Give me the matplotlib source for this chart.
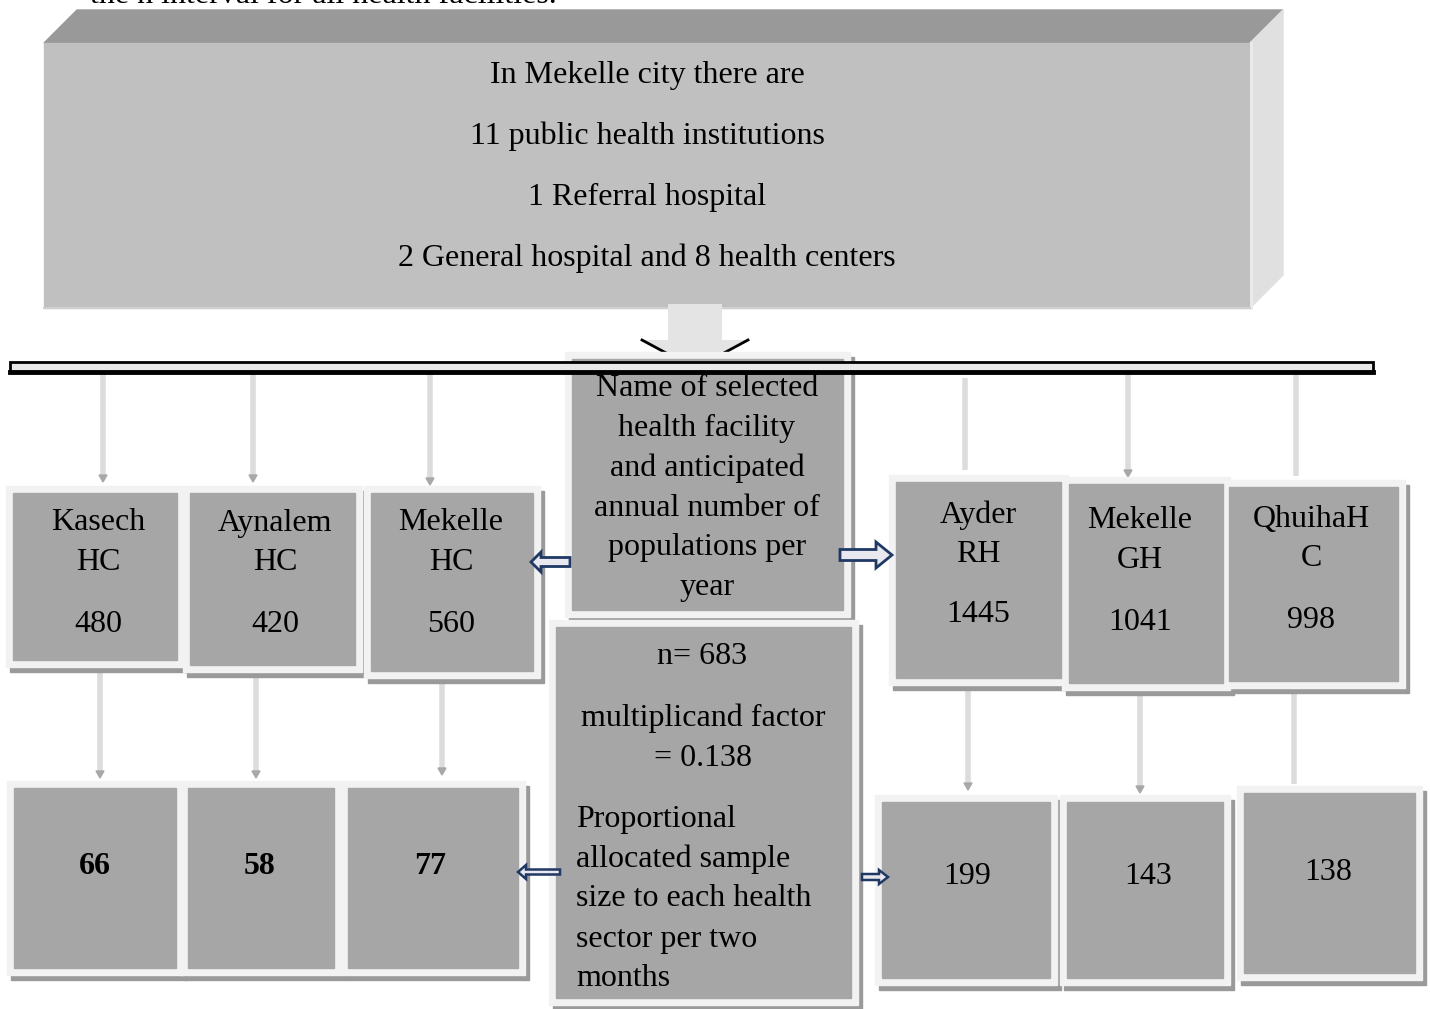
import matplotlib.pyplot as plt
from matplotlib.patches import Rectangle, Polygon

plt.rcParams["font.family"] = ["Liberation Serif", "DejaVu Serif"]

# --- content -------------------------------------------------------------
TOP_LINES = [
    "In Mekelle city there are",
    "11 public health institutions",
    "1 Referral hospital",
    "2 General hospital and 8 health centers",
]
CENTER_LINES = [
    "Name of selected",
    "health facility",
    "and anticipated",
    "annual number of",
    "populations per",
    "year",
]
FACILITY_NAMES = ["Kasech\nHC", "Aynalem\nHC", "Mekelle\nHC",
                  "Ayder\nRH", "Mekelle\nGH", "QhuihaH\nC"]
ANNUAL_POP = [480, 420, 560, 1445, 1041, 998]
SAMPLE_SIZE = [66, 58, 77, 199, 143, 138]
N_TOTAL = 683
FACTOR = 0.138

# --- layout (pixel space, y down) -----------------------------------------
# (frame x0, x1, y0, y1) for first-row and second-row boxes
ROW1 = [(6, 184, 486, 667), (183, 362, 486, 672), (364, 540, 486, 678),
        (889, 1068, 475, 685), (1062, 1230, 477, 690), (1222, 1405, 480, 688)]
ROW1_TEXT_X = [98, 275, 451, 978, 1140, 1311]
ROW1_TEXT_Y = [(523, 563, 624), (523, 563, 624), (523, 563, 624),
               (515, 555, 615), (521, 561, 622), (519, 559, 620)]
ROW2 = [(7, 183, 781, 975), (181, 341, 781, 975), (341, 525, 781, 975),
        (875, 1057, 795, 985), (1060, 1230, 795, 985), (1237, 1422, 786, 980)]
ROW2_TEXT_X = [95, 260, 430, 967, 1148, 1328]
ROW2_TEXT_Y = [866, 866, 866, 877, 877, 872]
CONN1 = [(103, 374, 482), (253, 374, 482), (430, 374, 485),
         (965, 378, 470), (1128, 362, 477), (1296, 374, 476)]
CONN2 = [(100, 670, 778), (256, 672, 778), (442, 678, 775),
         (968, 678, 790), (1140, 682, 793), (1294, 682, 784)]

FS = 23
FRAME = "#f2f2f2"
INNER = "#a6a6a6"
SHADOW = "#9a9a9a"
NAVY = "#1f3864"

fig = plt.figure(figsize=(14.30, 10.09), dpi=100)
ax = fig.add_axes([0, 0, 1, 1])
ax.set_xlim(0, 1430)
ax.set_ylim(1009, 0)
ax.axis("off")


def box(x0, x1, y0, y1, z=3, pad=7):
    ax.add_patch(Rectangle((x0 + 4, y0 + 5), x1 - x0, y1 - y0,
                           color=SHADOW, zorder=z))
    ax.add_patch(Rectangle((x0, y0), x1 - x0, y1 - y0, color=FRAME, zorder=z + 0.1))
    ax.add_patch(Rectangle((x0 + pad, y0 + pad), x1 - x0 - 2 * pad,
                           y1 - y0 - 2 * pad, color=INNER, zorder=z + 0.2))


def connector(x, y0, y1, tip=True):
    ax.plot([x, x], [y0, y1 - (6 if tip else 0)], color="#dcdcdc", lw=4,
            solid_capstyle="butt", zorder=2)
    if tip:
        ax.add_patch(Polygon([[x - 4, y1 - 7], [x + 4, y1 - 7], [x, y1]],
                             color="#a8a8a8", zorder=2))


def block_arrow(x_tail, x_tip, y, body, head, head_len, lw=2):
    d = 1 if x_tip > x_tail else -1
    xb = x_tip - d * head_len
    pts = [[x_tail, y - body / 2], [xb, y - body / 2], [xb, y - head / 2],
           [x_tip, y], [xb, y + head / 2], [xb, y + body / 2], [x_tail, y + body / 2]]
    ax.add_patch(Polygon(pts, closed=True, facecolor="#e8e8ee", edgecolor=NAVY,
                         lw=lw, joinstyle="miter", zorder=8))


# cut-off caption line from the page above (cropped in the source too)
ax.text(90, 3, "the n interval for all health facilities.", fontsize=FS,
        ha="left", va="baseline", zorder=1)

# top 3-D box
ax.add_patch(Polygon([[44, 43], [77, 10], [1283, 10], [1250, 43]],
                     color="#999999", zorder=1))
ax.add_patch(Polygon([[1250, 43], [1283, 10], [1283, 275], [1250, 308]],
                     color="#e0e0e0", zorder=1))
ax.add_patch(Rectangle((44, 43), 1206, 265, color="#c0c0c0", zorder=1))
ax.plot([1251, 1251], [43, 308], color="#ececec", lw=2, zorder=1.1)
ax.plot([44, 1250], [308, 308], color="#d0d0d0", lw=1.5, zorder=1.1)
for i, line in enumerate(TOP_LINES):
    ax.text(647, 75 + 61 * i, line, fontsize=FS, ha="center", va="center", zorder=2)

# big down arrow
ax.add_patch(Polygon([[668, 304], [722, 304], [722, 340], [748, 340], [695, 372],
                      [642, 340], [668, 340]], closed=True, facecolor="#e4e4e4",
                     edgecolor="none", zorder=1.5))
ax.plot([642, 668], [340, 354], color="black", lw=2, zorder=1.6)
ax.plot([748, 722], [340, 354], color="black", lw=2, zorder=1.6)

# central top box
box(565, 850, 352, 617, z=3)
for i, line in enumerate(CENTER_LINES):
    ax.text(707, 388 + 40 * i, line, fontsize=FS, ha="center", va="center", zorder=6)

# horizontal bar
ax.add_patch(Rectangle((10, 362), 1363, 10, facecolor="#e8e8e8", edgecolor="black",
                       lw=2, zorder=5))
ax.plot([10, 1373], [372, 372], color="black", lw=3.5, zorder=5.1)

# central lower box
box(549, 858, 620, 1005, z=3)
ax.text(702, 657, f"n= {N_TOTAL}", fontsize=FS, ha="center", va="center", zorder=6)
ax.text(703, 718, "multiplicand factor", fontsize=FS, ha="center", va="center", zorder=6)
ax.text(703, 758, f"= {FACTOR}", fontsize=FS, ha="center", va="center", zorder=6)
for i, line in enumerate(["Proportional", "allocated sample", "size to each health",
                          "sector per two", "months"]):
    ax.text(576, 819 + 40 * i, line, fontsize=FS, ha="left", va="center", zorder=6)

# connectors
for k, (x, y0, y1) in enumerate(CONN1):
    connector(x, y0, y1, tip=(k != 3 and k != 5))
for k, (x, y0, y1) in enumerate(CONN2):
    connector(x, y0, y1, tip=(k != 5))

# facility boxes with annual population
for (x0, x1, y0, y1), cx, name, pop, (ty1, ty2, ty3) in zip(
        ROW1, ROW1_TEXT_X, FACILITY_NAMES, ANNUAL_POP, ROW1_TEXT_Y):
    box(x0, x1, y0, y1, z=3)
    l1, l2 = name.split("\n")
    ax.text(cx, ty1, l1, fontsize=FS, ha="center", va="center", zorder=6)
    ax.text(cx, ty2, l2, fontsize=FS, ha="center", va="center", zorder=6)
    ax.text(cx, ty3, str(pop), fontsize=FS, ha="center", va="center", zorder=6)

# sample size boxes
for k, ((x0, x1, y0, y1), cx, n, ty) in enumerate(
        zip(ROW2, ROW2_TEXT_X, SAMPLE_SIZE, ROW2_TEXT_Y)):
    box(x0, x1, y0, y1, z=3)
    ax.text(cx, ty, str(n), fontsize=FS, ha="center", va="center",
            fontweight="bold" if k < 3 else "normal", zorder=6)

# hollow block arrows from the centre boxes
block_arrow(570, 531, 562, 9, 20, 10)
block_arrow(840, 892, 555, 11, 26, 16)
block_arrow(560, 518, 872, 5, 14, 8, lw=1.8)
block_arrow(862, 888, 877, 6, 14, 9, lw=1.8)

fig.savefig("out.png", dpi=100)
